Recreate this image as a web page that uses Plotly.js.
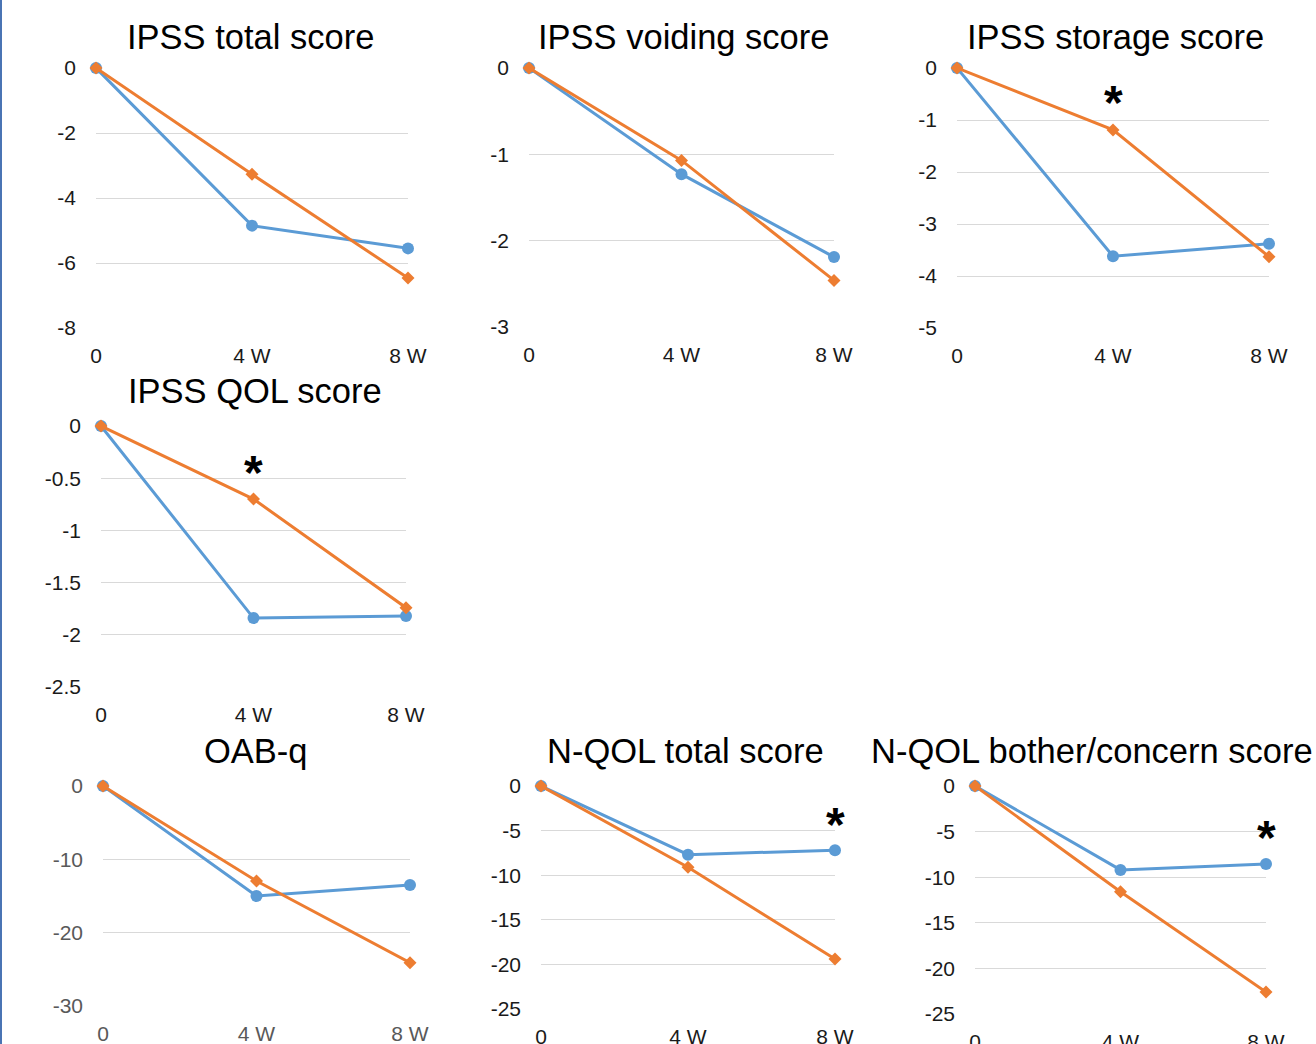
<!DOCTYPE html>
<html><head><meta charset="utf-8">
<script src="https://cdn.plot.ly/plotly-3.0.1.min.js"></script>
<style>html,body{margin:0;padding:0;background:#fff}#chart{width:1316px;height:1044px}</style>
</head><body><div id="chart"></div>
<script>
// ---- data ----
const timepoints = ['0', '4 W', '8 W'];
const panelTitles = ['IPSS total score', 'IPSS voiding score', 'IPSS storage score', 'IPSS QOL score', 'OAB-q', 'N-QOL total score', 'N-QOL bother/concern score'];

// blue series (circles)
const ipssTotalBlue   = [0, -4.85, -5.55];
const ipssVoidingBlue = [0, -1.23, -2.19];
const ipssStorageBlue = [0, -3.62, -3.38];
const ipssQolBlue     = [0, -1.84, -1.82];
const oabqBlue        = [0, -15.0, -13.5];
const nqolTotalBlue   = [0, -7.7, -7.2];
const nqolBotherBlue  = [0, -9.2, -8.55];

// orange series (diamonds)
const ipssTotalOrange   = [0, -3.27, -6.46];
const ipssVoidingOrange = [0, -1.07, -2.46];
const ipssStorageOrange = [0, -1.19, -3.63];
const ipssQolOrange     = [0, -0.70, -1.74];
const oabqOrange        = [0, -12.96, -24.1];
const nqolTotalOrange   = [0, -9.1, -19.4];
const nqolBotherOrange  = [0, -11.6, -22.6];

// y tick values / labels
const ipssTotalTicks   = [0, -2, -4, -6, -8];
const ipssVoidingTicks = [0, -1, -2, -3];
const ipssStorageTicks = [0, -1, -2, -3, -4, -5];
const ipssQolTicks     = [0, -0.5, -1, -1.5, -2, -2.5];
const oabqTicks        = [0, -10, -20, -30];
const nqolTotalTicks   = [0, -5, -10, -15, -20, -25];
const nqolBotherTicks  = [0, -5, -10, -15, -20, -25];

// significance marks: [panel index, timepoint, y value]
const sigPanels = [2, 3, 5, 6];
const sigTimes  = ['4 W', '4 W', '8 W', '8 W'];
const sigYs     = [-0.48, -0.345, -3.25, -4.6];

// ---- layout geometry (pixels) ----
const W = 1316, H = 1044;
const boxes = [
  {x0: 96,  x1: 408,  y0: 68,  y1: 328},
  {x0: 529, x1: 834,  y0: 68,  y1: 327},
  {x0: 957, x1: 1269, y0: 68,  y1: 328},
  {x0: 101, x1: 406,  y0: 426, y1: 687},
  {x0: 103, x1: 410,  y0: 786, y1: 1006},
  {x0: 541, x1: 835,  y0: 786, y1: 1009},
  {x0: 975, x1: 1266, y0: 786, y1: 1014}
];
const titlePos = [[250, 37], [683, 37], [1115, 37], [255, 391], [256, 751], [685, 751], [1092, 751]];

const blueSeries = [ipssTotalBlue, ipssVoidingBlue, ipssStorageBlue, ipssQolBlue, oabqBlue, nqolTotalBlue, nqolBotherBlue];
const orangeSeries = [ipssTotalOrange, ipssVoidingOrange, ipssStorageOrange, ipssQolOrange, oabqOrange, nqolTotalOrange, nqolBotherOrange];
const tickSets = [ipssTotalTicks, ipssVoidingTicks, ipssStorageTicks, ipssQolTicks, oabqTicks, nqolTotalTicks, nqolBotherTicks];

const BLUE = '#5B9BD5', ORANGE = '#ED7D31';
const FONT = 'Arial, "Liberation Sans", sans-serif';

const traces = [];
const layout = {
  width: W, height: H,
  margin: {l: 0, r: 0, t: 0, b: 0},
  paper_bgcolor: '#ffffff', plot_bgcolor: '#ffffff',
  showlegend: false,
  font: {family: FONT},
  annotations: [],
  shapes: [{type: 'rect', xref: 'paper', yref: 'paper', x0: 0, x1: 2 / W, y0: 0, y1: 1,
            fillcolor: '#4a74b4', line: {width: 0}}]
};

boxes.forEach((b, i) => {
  const n = i === 0 ? '' : String(i + 1);
  const xa = 'x' + n, ya = 'y' + n;
  const tickColor = i === 4 ? '#595959' : '#1a1a1a';
  traces.push({
    x: timepoints, y: blueSeries[i], xaxis: xa, yaxis: ya, type: 'scatter', mode: 'lines+markers',
    line: {color: BLUE, width: 3}, marker: {symbol: 'circle', size: 12, color: BLUE},
    cliponaxis: false, name: 'Blue group', hoverinfo: 'x+y'
  });
  traces.push({
    x: timepoints, y: orangeSeries[i], xaxis: xa, yaxis: ya, type: 'scatter', mode: 'lines+markers',
    line: {color: ORANGE, width: 3}, marker: {symbol: 'diamond', size: 10, color: ORANGE},
    cliponaxis: false, name: 'Orange group', hoverinfo: 'x+y'
  });
  const ticks = tickSets[i];
  layout['xaxis' + n] = {
    domain: [b.x0 / W, b.x1 / W], anchor: ya, type: 'category', range: [0, 2],
    showgrid: false, zeroline: false, showline: false, ticks: '',
    tickfont: {size: 21, color: tickColor, family: FONT}, ticklabelstandoff: 13,
    fixedrange: true
  };
  layout['yaxis' + n] = {
    domain: [1 - b.y1 / H, 1 - b.y0 / H], anchor: xa,
    range: [ticks[ticks.length - 1], 0],
    tickvals: ticks, ticktext: ticks.map(v => String(v)),
    showgrid: true, gridcolor: '#d9d9d9', gridwidth: 1,
    zeroline: false, showline: false, ticks: '',
    tickfont: {size: 21, color: tickColor, family: FONT}, ticklabelstandoff: 19,
    fixedrange: true
  };
  layout.annotations.push({
    text: panelTitles[i], xref: 'paper', yref: 'paper',
    x: titlePos[i][0] / W, y: 1 - titlePos[i][1] / H, xanchor: 'center', yanchor: 'middle',
    showarrow: false, font: {size: 34.5, color: '#000', family: FONT}
  });
});

sigPanels.forEach((p, k) => {
  const n = p === 0 ? '' : String(p + 1);
  layout.annotations.push({
    text: '<b>*</b>', xref: 'x' + n, yref: 'y' + n, x: sigTimes[k], y: sigYs[k],
    xanchor: 'center', yanchor: 'middle', yshift: -10, showarrow: false,
    font: {size: 48, color: '#000', family: FONT}
  });
});

Plotly.newPlot('chart', traces, layout, {displayModeBar: false, staticPlot: true});
</script>
</body></html>
